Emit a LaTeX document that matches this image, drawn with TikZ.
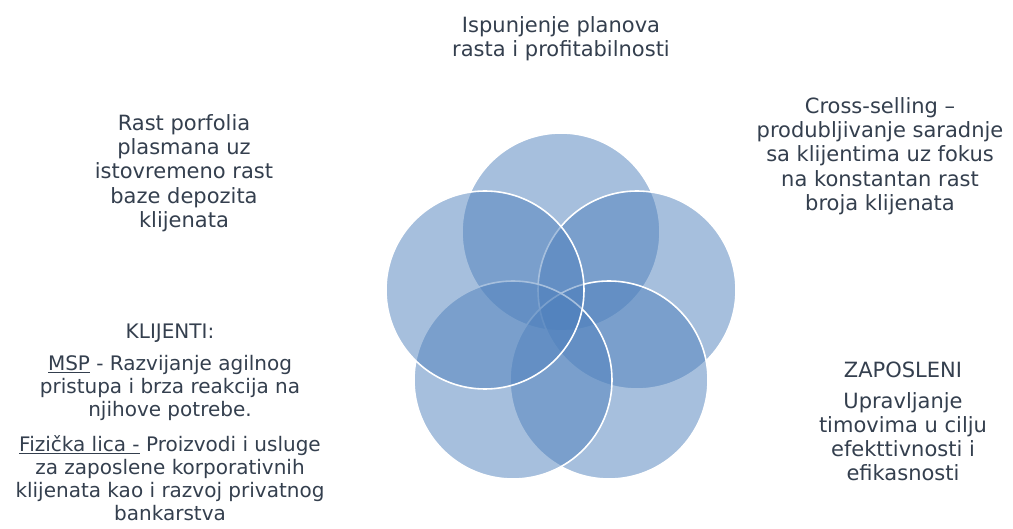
\documentclass[tikz,border=0pt]{standalone}
\usepackage{fontspec}
\setmainfont{DejaVu Sans}
\definecolor{vennblue}{RGB}{79,129,189}
\definecolor{txtcol}{RGB}{52,63,78}
\tikzset{
  venn/.style={fill=vennblue, fill opacity=0.5, draw=white, line width=1.6pt},
  lbl/.style={text=txtcol, align=center, inner sep=0pt, anchor=north,
              font=\fontsize{21}{24.3}\selectfont},
  lblsmall/.style={text=txtcol, align=center, inner sep=0pt, anchor=north,
              font=\fontsize{20}{22.8}\selectfont}
}
\begin{document}
\begin{tikzpicture}[x=1pt,y=-1pt]
\useasboundingbox (0,0) rectangle (1013,529);
\fill[white] (0,0) rectangle (1013,529);
% circles
\path[venn] (561,232) circle[radius=99];
\path[venn] (637,290) circle[radius=99];
\path[venn] (609,380) circle[radius=99];
\path[venn] (513,380) circle[radius=99];
\path[venn] (485,290) circle[radius=99];
% labels
\node[lbl] (top) at (561,16) {Ispunjenje planova\\rasta i profitabilnosti};
\node[lbl] (tl) at (184,114) {Rast porfolia\\plasmana uz\\istovremeno rast\\baze depozita\\klijenata};
\node[lbl] (tr) at (880,97) {Cross-selling –\\produbljivanje saradnje\\sa klijentima uz fokus\\na konstantan rast\\broja klijenata};
\node[lbl] (br) at (903,362) {ZAPOSLENI\\[6pt]Upravljanje\\timovima u cilju\\efekttivnosti i\\efikasnosti};
\node[lblsmall] (bl) at (170,324) {KLIJENTI:\\[9pt]\underline{MSP} - Razvijanje agilnog\\pristupa i brza reakcija na\\njihove potrebe.\\[13pt]\underline{Fizička lica -} Proizvodi i usluge\\za zaposlene korporativnih\\klijenata kao i razvoj privatnog\\bankarstva};
\end{tikzpicture}
\end{document}
